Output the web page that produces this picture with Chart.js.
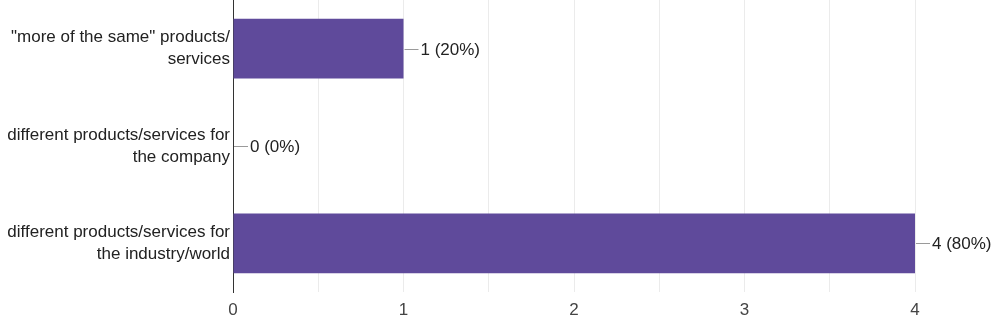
<!DOCTYPE html>
<html>
<head>
<meta charset="utf-8">
<script src="https://cdn.jsdelivr.net/npm/chart.js@4/dist/chart.umd.min.js"></script>
<style>
  html, body { margin: 0; padding: 0; background: #fff; }
  canvas { display: block; }
</style>
</head>
<body>
<canvas id="myChart" width="993" height="321"></canvas>
<script>
// answers, counts and share of the 5 responses
var categories = [
    ['"more of the same" products/', 'services'],
    ['different products/services for', 'the company'],
    ['different products/services for', 'the industry/world']
];
var counts = [1, 0, 4];
var percents = [20, 0, 80];
var xTicks = [0, 1, 2, 3, 4];

var FONT = "'Liberation Sans', Arial, sans-serif";

// draws the "—1 (20%)" labels at the end of each bar
var valueLabels = {
    id: "valueLabels",
    afterDatasetsDraw: function (chart) {
        var ctx = chart.ctx;
        var meta = chart.getDatasetMeta(0);
        ctx.save();
        ctx.font = "17px " + FONT;
        ctx.textBaseline = "middle";
        ctx.textAlign = "left";
        meta.data.forEach(function (bar, i) {
            var x = bar.x;
            var y = Math.round(bar.y);
            ctx.strokeStyle = "#9a9a9a";
            ctx.lineWidth = 1;
            ctx.beginPath();
            ctx.moveTo(x + 1, y + 0.5);
            ctx.lineTo(x + 15, y + 0.5);
            ctx.stroke();
            ctx.fillStyle = "#222";
            ctx.fillText(counts[i] + " (" + percents[i] + "%)", x + 17, y + 1);
        });
        ctx.restore();
    }
};

var ctx = document.getElementById("myChart").getContext("2d");

var myBarChart = new Chart(ctx, {
    type: "bar",
    data: {
        labels: categories,
        datasets: [
            {
                data: counts,
                backgroundColor: "#5f4a9b",
                borderWidth: 0,
                barPercentage: 0.615,
                categoryPercentage: 1
            }
        ]
    },
    plugins: [valueLabels],
    options: {
        indexAxis: "y",
        responsive: false,
        animation: false,
        layout: { padding: { top: 0, right: 78, bottom: 0, left: 0 } },
        plugins: {
            legend: { display: false },
            tooltip: { enabled: false }
        },
        scales: {
            x: {
                min: xTicks[0],
                max: xTicks[xTicks.length - 1],
                afterFit: function (scale) {
                    scale.height = 29;
                },
                ticks: {
                    stepSize: 0.5,
                    padding: 8,
                    color: "#444",
                    font: { family: FONT, size: 17 },
                    callback: function (v) {
                        return Number.isInteger(v) ? v : "";
                    }
                },
                grid: { color: "#ebebeb", drawTicks: false },
                border: { display: false }
            },
            y: {
                afterFit: function (scale) {
                    scale.width = 233;
                    scale.paddingTop = 0;
                    scale.paddingBottom = 0;
                },
                ticks: {
                    padding: 3,
                    color: "#222",
                    font: { family: FONT, size: 17, lineHeight: 1.3 }
                },
                grid: { display: false, drawTicks: false },
                border: { display: true, color: "#333", width: 1 }
            }
        }
    }
});
</script>
</body>
</html>
